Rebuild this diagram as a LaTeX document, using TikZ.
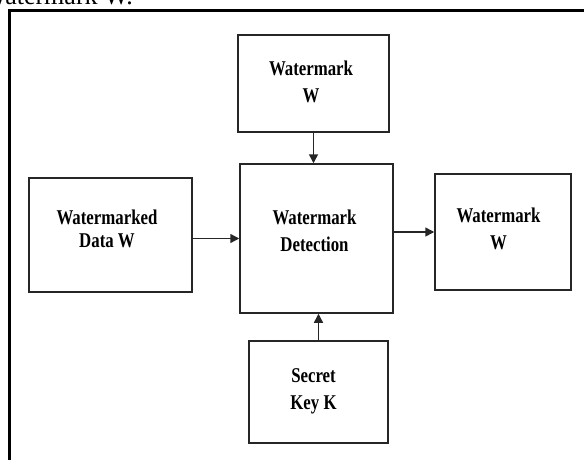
\documentclass[tikz,border=0pt]{standalone}
\usepackage{fontspec}
\setmainfont{Liberation Serif}
\newfontfamily\boxfont{Liberation Serif}[FakeStretch=0.8]
\usetikzlibrary{arrows.meta}
\begin{document}
\begin{tikzpicture}[x=1pt,y=-1pt,
  box/.style={draw=black!85,line width=1.5pt,minimum width=#1,inner sep=0pt},
  lbl/.style={font=\boxfont\bfseries\fontsize{21}{27}\selectfont,align=center,inner sep=0pt,text=black},
  arr/.style={draw=black!85,line width=1.5pt,-{Triangle[length=9pt,width=9pt]}}]
\useasboundingbox (0,0) rectangle (584,460);
\clip (0,0) rectangle (584,460);
% cut-off caption line above the frame
\node[anchor=base east,inner sep=0pt,font=\fontsize{26}{30}\selectfont] (cap) at (133,5) {Watermark W.};
% frame
\draw[line width=3pt] (9,470) -- (9,11) -- (600,11);
% boxes
\node[box=151pt,minimum height=97pt] (top) at (313.5,83.5) {};
\node[box=153pt,minimum height=149pt] (cen) at (316.5,238.5) {};
\node[box=163pt,minimum height=114pt] (left) at (110.5,235) {};
\node[box=136pt,minimum height=116pt] (right) at (503,232) {};
\node[box=139pt,minimum height=102pt] (bot) at (318.5,392) {};
% labels
\node[lbl] (ttop) at (311,82) {Watermark\\W};
\node[lbl] (tcen) at (314.5,231) {Watermark\\Detection};
\node[lbl,font=\boxfont\bfseries\fontsize{21}{23}\selectfont] (tleft) at (107,229) {Watermarked\\Data W};
\node[lbl] (tright) at (498.5,229) {Watermark\\W};
\node[lbl] (tbot) at (313.5,391) {Secret\\Key K};
% connectors
\draw[arr] (top.south) -- (top.south |- cen.north);
\draw[arr] (bot.north) -- (bot.north |- cen.south);
\draw[arr] (left.east |- cen.west) -- (cen.west);
\draw[arr] (cen.east |- right.west) -- (right.west);
\end{tikzpicture}
\end{document}
